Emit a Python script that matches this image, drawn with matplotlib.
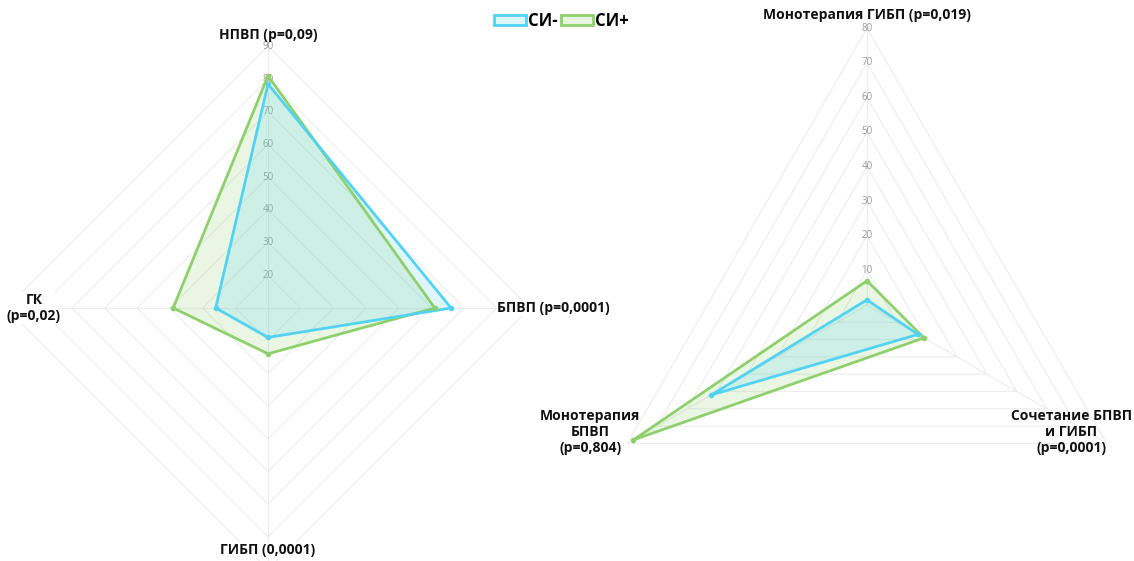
import numpy as np
import matplotlib
matplotlib.use('Agg')
import matplotlib.pyplot as plt
from matplotlib.patches import Patch
from matplotlib.colors import to_rgba

plt.rcParams['font.family'] = ['Open Sans', 'DejaVu Sans']

# left radar: drugs in use
left_labels = ['НПВП (p=0,09)', 'БПВП (p=0,0001)', 'ГИБП (0,0001)', 'ГК\n(p=0,02)']
left_si_minus = [78.5, 66, 19, 26]
left_si_plus = [81, 61, 24, 39]
left_ticks = [20, 30, 40, 50, 60, 70, 80, 90]

# right radar: therapy schemes
right_labels = ['Монотерапия ГИБП (p=0,019)', 'Сочетание БПВП\nи ГИБП\n(p=0,0001)',
                'Монотерапия\nБПВП\n(p=0,804)']
right_si_minus = [1.5, 17, 52]
right_si_plus = [7, 19, 78]
right_ticks = [10, 20, 30, 40, 50, 60, 70, 80]

series_names = ['СИ-', 'СИ+']
line_colors = ['#52d3f2', '#8ed06c']

W, H = 1134, 561
fig = plt.figure(figsize=(W / 100, H / 100), dpi=100)


def panel(x0, x1, cx, cy, scale):
    ax = fig.add_axes([x0 / W, 0, (x1 - x0) / W, 1])
    ax.set_xlim((x0 - cx) / scale, (x1 - cx) / scale)
    ax.set_ylim((cy - H) / scale, cy / scale)
    ax.set_aspect('equal')
    ax.axis('off')
    return ax


def radar(ax, labels, series, ticks, vmin, label_pos, label_ha, label_box):
    n = len(labels)
    ang = np.arange(n) * 2 * np.pi / n
    sx, sy = np.sin(ang), np.cos(ang)
    # polygon rings and spokes
    for t in ticks:
        r = t - vmin
        ax.plot(np.append(r * sx, r * sx[0]), np.append(r * sy, r * sy[0]),
                color='#ececec', lw=0.8, zorder=1)
    rmax = ticks[-1] - vmin
    for i in range(n):
        ax.plot([0, rmax * sx[i]], [0, rmax * sy[i]], color='#ececec', lw=0.8, zorder=1)
    for t in ticks:
        ax.text(0, t - vmin, str(t), ha='center', va='center', fontsize=7,
                color='#999999', zorder=2)
    # data
    for vals, col in list(zip(series, line_colors))[::-1]:
        r = np.array(vals) - vmin
        xs, ys = r * sx, r * sy
        ax.fill(xs, ys, color=col, alpha=0.18, lw=0, zorder=3)
        ax.plot(np.append(xs, xs[0]), np.append(ys, ys[0]), color=col, lw=2.0, zorder=4)
        ax.plot(xs, ys, 'o', color=col, ms=3, zorder=5)
    for lab, (px, py), ha, boxed in zip(labels, label_pos, label_ha, label_box):
        box = dict(boxstyle='square,pad=0.1', fc='white', ec='none') if boxed else None
        ax.text(px, py, lab, ha=ha, va='center', multialignment='center',
                fontsize=10, fontweight='bold', color='#111111', zorder=6, bbox=box)


axl = panel(0, 560, 268, 308, 3.27)
radar(axl, left_labels, [left_si_minus, left_si_plus], left_ticks, 10,
      [(0, 83.6), (70, 0), (0, -74), (-71.6, 0)], ['center', 'left', 'center', 'center'],
      [False, True, True, True])

axr = panel(560, W, 867, 305, 3.46)
radar(axr, right_labels, [right_si_minus, right_si_plus], right_ticks, 0,
      [(0, 83.8), (59.0, -36.7), (-80, -36.7)], ['center', 'center', 'center'],
      [False, False, False])

handles = [Patch(facecolor=to_rgba(c, 0.2), edgecolor=c, lw=2) for c in line_colors]
fig.legend(handles, series_names, loc='center', bbox_to_anchor=(0.495, 0.963),
           ncol=2, frameon=False, handlelength=1.9, handleheight=0.55,
           handletextpad=0.1, columnspacing=0.25,
           prop={'weight': 'bold', 'size': 12})

fig.savefig('out.png', dpi=100, facecolor='white')
